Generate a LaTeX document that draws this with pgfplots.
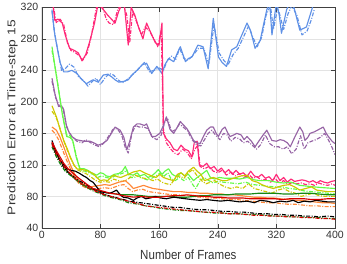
\documentclass[border=0pt]{standalone}
\usepackage{pgfplots}
\pgfplotsset{compat=1.18}
\usepackage{graphicx}
\usepackage{fontspec}
\setmainfont{Liberation Sans}
\definecolor{cpink}{RGB}{255,40,120}
\definecolor{cblue}{RGB}{95,145,230}
\definecolor{cpurple}{RGB}{150,100,165}
\definecolor{clgreen}{RGB}{100,250,70}
\definecolor{cyellow}{RGB}{205,200,0}
\definecolor{corange}{RGB}{255,135,55}
\definecolor{cred}{RGB}{215,0,0}
\definecolor{cdgreen}{RGB}{20,135,20}
\tikzset{dd/.style={dash pattern=on 4pt off 1.5pt on 1pt off 1.5pt}}
\begin{document}
\begin{tikzpicture}
\begin{axis}[
  scale only axis, width=293pt, height=220.4pt,
  xmin=0, xmax=400, ymin=40, ymax=320,
  xtick={0,80,...,400}, ytick={40,80,...,320},
  grid=major, grid style={gray!22, line width=0.6pt},
  axis line style={black!75},
  tick style={black!75},
  tick align=inside,
  /pgf/number format/assume math mode=true,
  ticklabel style={font=\fontsize{10.5}{12}\selectfont, text=black!80},
  xlabel={\scalebox{1.03}[1.18]{Number of Frames}},
  ylabel={\scalebox{1.23}[1]{Prediction Error at Time-step 15}},
  label style={font=\fontsize{11.2}{13}\selectfont, text=black!80},
  xlabel style={yshift=-4.5pt},
  ylabel style={yshift=-4pt},
  every axis plot/.append style={line width=1.15pt, line join=round},
]
% blue
\addplot[cblue] coordinates {(14,317)(17,290)(20,274)(25,250)(30,238)(35,238)(41,240)(48,236)(55,228)(61,223)(66,226)(70,228)(77,225)(84,234)(90,235)(95,232)(100,228)(105,225)(112,226)(118,228)(124,235)(130,240)(137,247)(143,249)(150,236)(157,245)(164,236)(168,247)(173,255)(180,251)(185,262)(189,270)(196,251)(200,255)(205,257)(213,272)(220,270)(227,242)(234,306)(241,257)(246,250)(252,245)(259,266)(266,270)(273,285)(280,300)(285,290)(291,268)(298,278)(303,300)(307,317)(311,325)(314,285)(320,325)(324,310)(327,287)(334,317)(338,325)(344,320)(352,291)(361,295)(366,310)(370,322)};
\addplot[cblue,dd] coordinates {(14,315)(18,285)(22,265)(27,240)(32,242)(38,248)(44,244)(50,232)(57,227)(63,220)(68,225)(74,230)(80,222)(86,230)(92,236)(98,234)(104,228)(110,224)(116,228)(122,233)(128,238)(134,244)(140,250)(147,238)(153,240)(160,243)(166,240)(171,252)(177,258)(183,254)(188,268)(194,255)(200,253)(207,260)(214,268)(221,268)(228,248)(235,298)(242,262)(248,253)(254,247)(261,260)(268,268)(275,282)(282,296)(288,282)(294,270)(300,282)(306,310)(312,322)(316,292)(322,320)(327,302)(330,292)(336,312)(341,322)(348,310)(355,285)(362,290)(368,305)(372,318)};
% pink
\addplot[cpink] coordinates {(15,325)(18,303)(22,305)(28,300)(32,285)(38,268)(45,265)(50,262)(55,252)(60,260)(65,275)(72,300)(77,325)(85,316)(90,310)(100,300)(105,315)(110,325)(113,320)(118,272)(122,320)(127,310)(132,295)(138,280)(143,300)(150,285)(155,275)(160,272)(164,300)(166,160)(170,153)(175,148)(180,140)(185,138)(190,145)(195,140)(200,138)(205,130)(208,148)(212,150)(215,120)(220,118)(225,122)(230,115)(235,118)(240,112)(245,116)(250,110)(255,114)(260,108)(265,113)(270,108)(275,110)(280,105)(285,112)(290,106)(295,104)(300,108)(305,103)(310,105)(315,100)(320,108)(325,100)(330,104)(335,98)(340,102)(345,99)(350,100)(355,101)(360,100)(365,98)(370,100)(375,97)(380,100)(385,98)(390,97)(395,99)(400,100)};
\addplot[cpink,dd] coordinates {(15,325)(20,300)(25,305)(30,298)(35,275)(40,265)(45,263)(52,258)(56,253)(62,262)(68,285)(75,322)(83,320)(88,305)(92,300)(98,298)(104,318)(111,325)(116,310)(120,275)(124,315)(130,300)(136,285)(141,295)(147,290)(153,280)(158,270)(163,290)(166,165)(170,148)(176,140)(181,135)(186,133)(192,140)(198,136)(204,128)(209,140)(213,145)(216,118)(222,115)(228,118)(234,112)(240,110)(246,113)(252,107)(258,111)(264,106)(270,109)(276,104)(282,108)(288,103)(294,105)(300,100)(306,102)(312,98)(318,103)(324,97)(330,100)(336,95)(342,98)(348,96)(354,97)(360,95)(366,96)(372,94)(378,97)(384,95)(390,94)(396,96)(400,94)};
% purple
\addplot[cpurple] coordinates {(14,230)(18,210)(23,194)(27,195)(30,190)(34,168)(38,160)(41,156)(47,152)(52,151)(58,150)(66,150)(71,148)(77,145)(83,147)(89,151)(95,160)(100,168)(107,164)(112,155)(116,139)(120,150)(125,168)(130,172)(134,172)(140,170)(143,172)(150,156)(155,156)(161,160)(166,170)(170,181)(175,165)(180,160)(185,168)(189,175)(194,170)(198,166)(202,160)(207,151)(212,148)(216,147)(220,155)(225,164)(230,168)(234,168)(238,160)(241,156)(246,165)(250,168)(254,160)(257,156)(262,158)(266,160)(272,158)(276,152)(280,156)(286,150)(291,143)(296,150)(302,158)(307,164)(314,151)(320,150)(325,152)(330,151)(335,148)(339,143)(345,155)(352,168)(356,162)(359,151)(363,155)(366,160)(372,162)(378,165)(384,168)(388,160)(391,156)(396,150)(400,147)};
\addplot[cpurple,dd] coordinates {(14,226)(19,205)(24,195)(29,192)(33,172)(37,162)(42,155)(48,150)(55,148)(60,152)(67,148)(73,145)(79,143)(85,148)(91,156)(97,165)(103,166)(109,158)(114,142)(118,135)(123,160)(128,170)(133,168)(139,168)(145,166)(151,155)(157,152)(163,158)(168,175)(172,178)(177,162)(183,165)(188,172)(193,168)(199,163)(205,152)(211,146)(217,144)(222,152)(227,160)(232,164)(237,158)(243,152)(248,160)(253,158)(258,150)(264,155)(270,153)(275,148)(281,150)(287,145)(293,140)(299,146)(305,158)(311,147)(317,143)(323,143)(329,140)(335,143)(341,134)(347,140)(353,157)(358,140)(363,148)(368,150)(374,152)(380,155)(386,160)(392,150)(397,140)(400,133)};
% light green
\addplot[clgreen] coordinates {(14,270)(18,245)(23,215)(28,185)(34,156)(38,155)(42,152)(47,130)(52,115)(58,115)(63,113)(68,110)(75,107)(80,110)(84,109)(88,106)(93,105)(99,108)(105,109)(110,112)(114,118)(118,108)(125,107)(130,110)(134,106)(140,108)(145,104)(150,106)(155,110)(159,114)(164,108)(168,112)(173,115)(178,108)(184,105)(190,110)(195,106)(200,108)(207,100)(212,104)(218,108)(225,113)(230,104)(236,102)(242,104)(250,103)(261,103)(270,102)(280,104)(290,101)(298,100)(310,100)(320,98)(330,97)(340,98)(352,94)(362,93)(372,92)(385,91)(400,90)};
\addplot[clgreen,dd] coordinates {(14,265)(19,240)(24,210)(29,180)(34,158)(39,157)(43,148)(48,128)(53,113)(59,112)(64,110)(70,108)(76,104)(82,106)(88,104)(94,103)(100,106)(106,108)(112,110)(116,114)(120,104)(126,104)(132,106)(138,103)(144,101)(150,103)(156,106)(162,110)(166,105)(172,110)(176,103)(182,100)(188,104)(194,100)(200,104)(206,95)(210,90)(216,100)(222,104)(228,100)(234,97)(240,99)(248,98)(258,97)(268,96)(278,98)(288,95)(298,94)(308,93)(318,92)(328,92)(338,90)(348,89)(358,87)(368,86)(380,85)(390,84)(400,83)};
% yellow
\addplot[cyellow] coordinates {(14,195)(17,188)(20,181)(25,165)(30,151)(35,140)(39,130)(44,120)(48,115)(55,114)(61,113)(65,111)(70,109)(75,104)(80,100)(85,101)(90,100)(94,104)(98,107)(103,105)(108,104)(113,106)(118,108)(125,111)(130,112)(134,113)(140,110)(145,108)(150,106)(156,104)(161,108)(166,104)(172,102)(180,100)(185,108)(190,110)(195,106)(200,112)(207,117)(212,112)(217,108)(222,100)(228,102)(234,104)(240,102)(246,100)(252,100)(258,102)(265,104)(272,106)(280,107)(287,100)(294,98)(300,95)(308,92)(316,90)(322,92)(330,94)(338,95)(345,92)(352,88)(360,90)(368,92)(375,88)(382,87)(390,86)(400,86)};
\addplot[cyellow,dd] coordinates {(14,188)(18,183)(22,175)(27,160)(31,148)(36,136)(40,127)(45,118)(50,113)(56,111)(62,108)(68,104)(74,100)(80,98)(86,99)(92,98)(98,102)(104,100)(110,99)(116,101)(122,105)(128,107)(134,104)(140,103)(146,102)(152,100)(158,102)(164,98)(170,96)(176,95)(182,103)(188,106)(194,103)(200,110)(206,114)(212,106)(218,100)(224,96)(230,98)(236,100)(242,96)(250,92)(258,90)(266,92)(274,90)(282,96)(290,90)(298,88)(306,86)(314,84)(322,88)(330,90)(338,86)(346,84)(354,80)(362,82)(370,84)(378,81)(386,80)(394,80)(400,80)};
% orange
\addplot[corange] coordinates {(14,168)(17,166)(20,164)(25,155)(30,143)(35,130)(39,120)(45,108)(52,98)(58,95)(66,92)(72,93)(80,94)(86,95)(93,94)(99,96)(105,98)(110,99)(114,100)(120,95)(125,90)(132,92)(139,94)(145,92)(152,90)(160,89)(166,88)(173,87)(180,86)(190,86)(200,85)(208,85)(216,84)(226,84)(236,83)(246,83)(252,82)(262,82)(272,81)(280,80)(289,79)(298,79)(308,78)(316,78)(325,77)(334,76)(343,75)(352,75)(362,74)(372,73)(382,72)(392,72)(400,71)};
\addplot[corange,dd] coordinates {(14,164)(18,160)(23,152)(28,140)(33,128)(38,117)(44,106)(50,97)(56,93)(62,90)(70,89)(78,90)(86,91)(94,90)(100,92)(106,94)(112,95)(118,90)(124,86)(130,88)(138,89)(146,86)(154,85)(162,84)(170,83)(178,82)(186,82)(196,81)(206,80)(216,79)(226,78)(236,78)(246,77)(256,76)(266,76)(276,75)(286,74)(296,73)(306,72)(316,72)(326,71)(336,70)(346,70)(356,69)(366,68)(376,68)(386,67)(400,67)};
% dark green
\addplot[cdgreen] coordinates {(14,147)(20,134)(26,124)(34,113)(42,105)(50,99)(56,95)(61,92)(70,89)(78,87)(86,85)(93,84)(102,83)(110,82)(118,82)(125,82)(135,81)(145,80)(155,80)(165,80)(175,80)(186,79)(198,79)(208,80)(218,81)(226,81)(234,82)(244,82)(254,82)(264,83)(274,83)(284,83)(296,84)(307,84)(318,84)(330,83)(342,83)(354,84)(366,84)(378,83)(390,82)(400,82)};
\addplot[cdgreen,dd] coordinates {(14,143)(20,130)(26,120)(32,112)(40,106)(48,100)(55,95)(62,91)(70,87)(78,84)(86,81)(93,79)(102,77)(110,75)(118,72)(125,71)(133,70)(141,68)(150,67)(161,65)(170,64)(180,63)(190,62)(198,62)(210,61)(222,60)(234,59)(246,59)(258,58)(270,58)(282,57)(294,57)(306,56)(318,55)(330,55)(342,54)(354,54)(366,53)(378,53)(390,52)(400,52)};
% black
\addplot[black] coordinates {(14,151)(18,140)(22,132)(25,126)(30,120)(34,115)(40,113)(46,112)(52,109)(57,106)(61,104)(66,100)(70,98)(75,92)(80,86)(86,85)(93,84)(98,86)(102,88)(107,82)(111,79)(118,78)(125,75)(130,78)(136,80)(142,77)(148,78)(155,80)(162,78)(170,77)(180,79)(188,78)(196,77)(205,76)(216,75)(225,76)(234,75)(244,74)(254,75)(262,74)(270,73)(280,74)(290,72)(298,75)(307,74)(316,72)(325,74)(334,73)(343,75)(350,72)(358,74)(366,73)(374,75)(382,74)(390,73)(400,73)};
\addplot[black,dd] coordinates {(14,148)(18,137)(23,128)(28,120)(33,113)(39,108)(45,104)(51,100)(57,97)(64,93)(70,90)(76,86)(82,84)(88,82)(94,80)(100,79)(106,77)(112,76)(118,74)(126,73)(134,72)(142,71)(150,70)(157,69)(165,68)(172,67)(180,66)(188,66)(196,65)(204,64)(216,63)(226,63)(236,62)(246,61)(256,61)(266,60)(276,60)(286,59)(296,58)(307,58)(318,57)(328,57)(338,56)(348,56)(358,55)(368,55)(378,54)(390,55)(400,54)};
% red
\addplot[cred] coordinates {(14,149)(20,138)(25,130)(30,122)(36,115)(42,110)(48,105)(55,100)(62,95)(70,90)(78,88)(86,86)(93,84)(102,83)(110,81)(118,80)(125,79)(135,80)(145,79)(155,79)(161,79)(170,80)(180,81)(190,81)(198,82)(208,81)(218,80)(226,80)(234,79)(244,79)(254,78)(264,78)(274,78)(284,77)(296,77)(307,77)(318,77)(328,76)(338,77)(348,77)(358,77)(368,76)(378,76)(390,77)(400,77)};
\addplot[cred,dd] coordinates {(14,146)(20,134)(26,124)(32,116)(38,110)(44,104)(50,99)(56,95)(62,92)(70,88)(78,85)(86,82)(94,80)(102,78)(110,76)(118,74)(126,72)(134,70)(142,68)(150,67)(160,66)(170,65)(180,64)(190,63)(200,62)(212,61)(222,60)(232,60)(244,59)(254,58)(266,58)(278,57)(290,56)(300,56)(312,55)(324,55)(334,54)(346,54)(356,53)(368,53)(380,52)(390,52)(400,51)};
\end{axis}
\pgfresetboundingbox
\useasboundingbox ([shift={(-41.7pt,-35.3pt)}]current axis.south west) rectangle ([shift={(12pt,7.3pt)}]current axis.north east);
\end{tikzpicture}
\end{document}
